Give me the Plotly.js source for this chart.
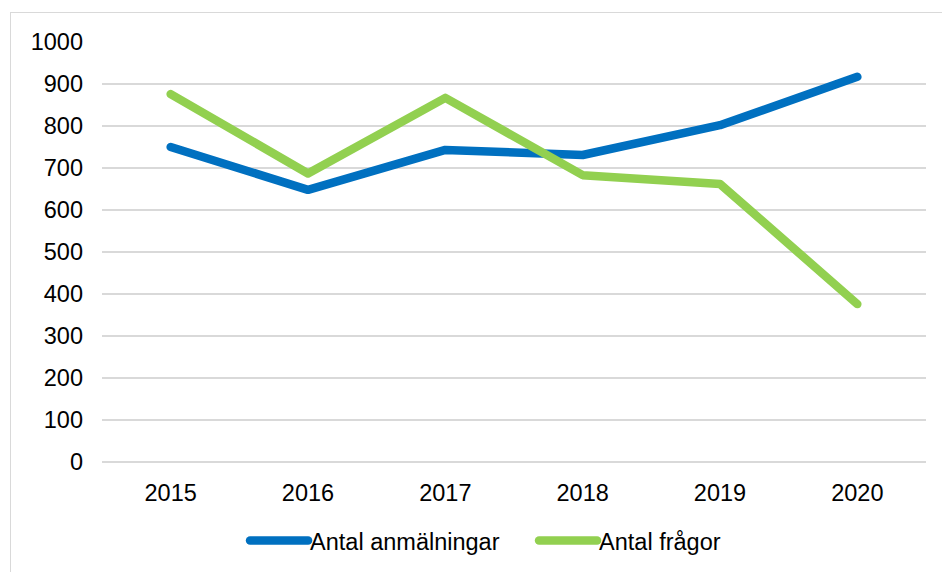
<!DOCTYPE html>
<html>
<head>
<meta charset="utf-8">
<script src="https://cdn.plot.ly/plotly-3.0.1.min.js"></script>
<style>
  html, body { margin: 0; padding: 0; background: #fff; }
  #wrap { position: relative; width: 942px; height: 572px; overflow: hidden; }
  #frame { position: absolute; left: 10px; top: 12px; width: 1000px; height: 1000px;
           border: 1.5px solid #d9d9d9; box-sizing: border-box; }
  #chart { position: absolute; left: 0; top: 0; width: 942px; height: 572px; }
  #chart .js-line { stroke-linecap: round; stroke-linejoin: round; }
  #chart .legend .scrollbox, #chart .legend { clip-path: none !important; }
  #chart .legendlines path { stroke-linecap: round; vector-effect: non-scaling-stroke;
    transform-origin: 0 0; transform: translateX(-29.7px) scaleX(1.933); }
</style>
</head>
<body>
<div id="wrap">
  <div id="frame"></div>
  <div id="chart"></div>
</div>
<script>
const years = ['2015', '2016', '2017', '2018', '2019', '2020'];
const anmalningar = [750, 648, 743, 731, 802, 917];
const fragor = [876, 687, 867, 683, 662, 376];
const seriesNames = ['Antal anmälningar', 'Antal frågor'];
const yTicks = [0, 100, 200, 300, 400, 500, 600, 700, 800, 900, 1000];

const traces = [
  { x: years, y: anmalningar, name: seriesNames[0], type: 'scatter', mode: 'lines',
    line: { color: '#0070C0', width: 8.5 } },
  { x: years, y: fragor, name: seriesNames[1], type: 'scatter', mode: 'lines',
    line: { color: '#92D050', width: 8.5 } }
];

const layout = {
  width: 942, height: 572,
  margin: { l: 102, r: 16.4, t: 42, b: 110, autoexpand: false },
  paper_bgcolor: 'rgba(0,0,0,0)',
  plot_bgcolor: 'rgba(0,0,0,0)',
  font: { family: 'Liberation Sans, Arial, sans-serif', size: 23.5, color: '#000' },
  showlegend: true,
  legend: { orientation: 'h', x: 0.204, xanchor: 'left', y: -0.135, yanchor: 'top',
            font: { size: 23.5, color: '#000' }, entrywidth: 244, entrywidthmode: 'pixels' },
  xaxis: { type: 'category', range: [-0.5, 5.5], showgrid: false, zeroline: false,
           showline: false, ticks: '', ticklabelstandoff: 14, fixedrange: true, automargin: false },
  yaxis: { range: [0, 1000], tickvals: yTicks, ticktext: yTicks.map(String),
           showgrid: true, gridcolor: '#d9d9d9', gridwidth: 1.5,
           zeroline: true, zerolinecolor: '#d9d9d9', zerolinewidth: 1.5,
           showline: false, ticks: '', ticklabelstandoff: 18, fixedrange: true, automargin: false }
};

Plotly.newPlot('chart', traces, layout, { displayModeBar: false, staticPlot: true });
</script>
</body>
</html>
